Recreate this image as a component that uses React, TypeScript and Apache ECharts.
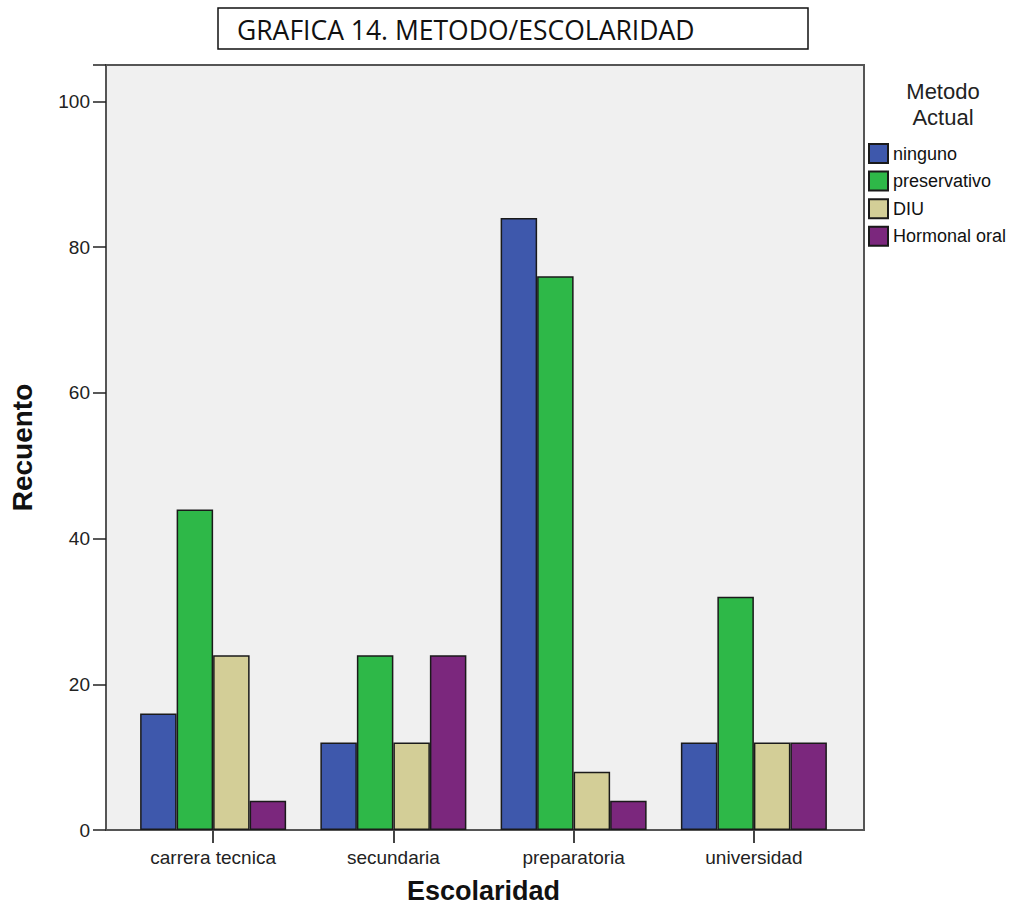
import React, { useEffect, useRef } from "react";
import * as echarts from "echarts";

const categories = ["carrera tecnica", "secundaria", "preparatoria", "universidad"];
const seriesNames = ["ninguno", "preservativo", "DIU", "Hormonal oral"];
const ninguno = [16, 12, 84, 12];
const preservativo = [44, 24, 76, 32];
const diu = [24, 12, 8, 12];
const hormonal = [4, 24, 4, 12];
const colors = ["#3e58ac", "#2eb848", "#d3ce97", "#7b277d"];
const yTicks = [0, 20, 40, 60, 80, 100];

export default function App() {
  const ref = useRef<HTMLDivElement>(null);
  useEffect(() => {
    if (!ref.current) return;
    const chart = echarts.init(ref.current, null, { renderer: "svg" });
    const values = [ninguno, preservativo, diu, hormonal];
    const font = "'Liberation Sans', Arial, sans-serif";
    chart.setOption({
      animation: false,
      backgroundColor: "#ffffff",
      grid: [
        {
          left: 103,
          top: 65,
          width: 761,
          height: 765,
          show: true,
          backgroundColor: "#f0f0f0",
          borderColor: "#555555",
          borderWidth: 2,
          z: 0,
        },
        { left: 123, top: 65, width: 721, height: 765 },
      ],
      xAxis: [
        { type: "value", gridIndex: 0, min: 0, max: 1, show: false },
        {
          type: "category",
          gridIndex: 1,
          data: categories,
          axisLine: { show: false },
          axisTick: { show: true, alignWithLabel: true, length: 13, lineStyle: { color: "#444", width: 2 } },
          axisLabel: { color: "#222", fontSize: 19, fontFamily: font, margin: 18 },
          name: "Escolaridad",
          nameLocation: "middle",
          nameGap: 47,
          nameTextStyle: { fontSize: 27, fontWeight: "bold", fontFamily: font, color: "#111" },
        },
      ],
      yAxis: [
        {
          type: "value",
          gridIndex: 0,
          min: 0,
          max: 105,
          interval: 20,
          splitLine: { show: false },
          axisLine: { show: false },
          axisTick: { show: true, length: 13, lineStyle: { color: "#222", width: 1.5 } },
          axisLabel: {
            color: "#222",
            fontSize: 19,
            fontFamily: font,
            margin: 16,
            formatter: (v: number) => (yTicks.includes(v) ? String(v) : ""),
          },
          name: "Recuento",
          nameLocation: "middle",
          nameGap: 70,
          nameTextStyle: { fontSize: 28, fontWeight: "bold", fontFamily: font, color: "#111" },
        },
        { type: "value", gridIndex: 1, min: 0, max: 105, show: false },
      ],
      legend: {
        orient: "vertical",
        left: 868,
        top: 143,
        itemWidth: 19,
        itemHeight: 19,
        itemGap: 6.6,
        icon: "rect",
        padding: 0,
        data: seriesNames,
        textStyle: { fontSize: 18, lineHeight: 19, fontFamily: font, color: "#111", padding: [0, 0, 0, 0] },
      },
      graphic: [
        {
          type: "rect",
          shape: { x: 218, y: 8, width: 590, height: 41 },
          style: { fill: "#ffffff", stroke: "#111", lineWidth: 1.5 },
        },
        {
          type: "text",
          x: 237,
          y: 30,
          style: {
            text: "GRAFICA 14. METODO/ESCOLARIDAD",
            fontSize: 26.5,
            fontFamily: "'Open Sans', 'Noto Sans', sans-serif",
            fill: "#111",
            verticalAlign: "middle",
          },
        },
        {
          type: "text",
          x: 943,
          y: 104,
          style: {
            text: "Metodo\nActual",
            fontSize: 22,
            lineHeight: 26,
            fontFamily: font,
            fill: "#222",
            align: "center",
            verticalAlign: "middle",
          },
        },
      ],
      series: seriesNames.map((name, i) => ({
        name,
        type: "bar",
        xAxisIndex: 1,
        yAxisIndex: 1,
        data: values[i],
        barGap: "0%",
        barCategoryGap: "19%",
        itemStyle: { color: colors[i], borderColor: "#1a1a1a", borderWidth: 1.5 },
      })),
    });
    return () => chart.dispose();
  }, []);
  return <div ref={ref} style={{ position: "fixed", left: 0, top: 0, width: 1021, height: 915 }} />;
}
